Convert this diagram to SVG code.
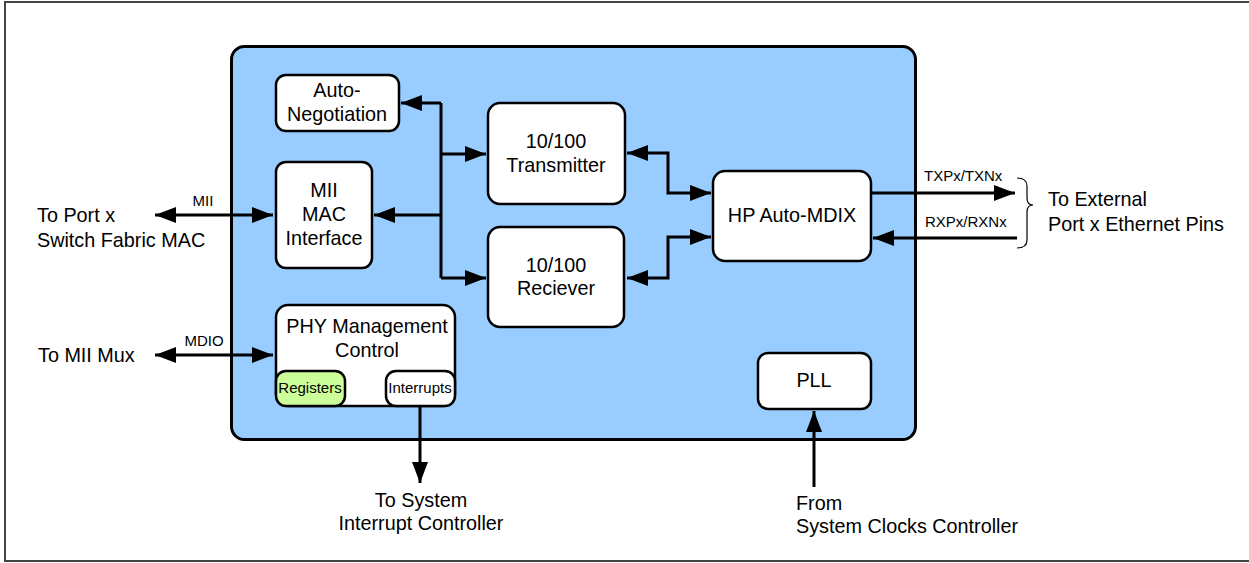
<svg xmlns="http://www.w3.org/2000/svg" width="1249" height="563" viewBox="0 0 1249 563">
<style>
text{font-family:"Liberation Sans",Arial,sans-serif;fill:#000}
.t{font-size:19.8px}
.s{font-size:15px}
.c{text-anchor:middle}
.box{fill:#fff;stroke:#000;stroke-width:2.5}
.ln{fill:none;stroke:#000;stroke-width:3}
</style>
<defs>
<marker id="ah" markerUnits="userSpaceOnUse" markerWidth="22" markerHeight="16" refX="21" refY="8" orient="auto-start-reverse">
<path d="M0,0 L21,8 L0,16 z" fill="#000"/>
</marker>
</defs>
<rect x="5" y="2" width="1250" height="559" fill="#fff" stroke="#444" stroke-width="2"/>
<g id="container">
<rect x="231.5" y="46.5" width="684" height="393" rx="13" fill="#99ccff" stroke="#000" stroke-width="3"/>
</g>
<g id="connectors">
<path class="ln" d="M155,215 L273,215" marker-start="url(#ah)" marker-end="url(#ah)"/>
<path class="ln" d="M155,355 L273,355" marker-start="url(#ah)" marker-end="url(#ah)"/>
<path class="ln" d="M441,103 L441,278"/>
<path class="ln" d="M441,103 L401,103" marker-end="url(#ah)"/>
<path class="ln" d="M441,154 L486,154" marker-end="url(#ah)"/>
<path class="ln" d="M441,215 L374,215" marker-end="url(#ah)"/>
<path class="ln" d="M441,278 L486,278" marker-end="url(#ah)"/>
<path class="ln" d="M627,153 L668,153 L668,193 L711,193" marker-start="url(#ah)" marker-end="url(#ah)"/>
<path class="ln" d="M627,278 L668,278 L668,237 L711,237" marker-start="url(#ah)" marker-end="url(#ah)"/>
<path class="ln" d="M871,193 L1015,193" marker-end="url(#ah)"/>
<path class="ln" d="M1017,238 L873,238" marker-end="url(#ah)"/>
<path class="ln" d="M420,406 L420,483" marker-end="url(#ah)"/>
<path class="ln" d="M814,487 L814,411" marker-end="url(#ah)"/>
<path d="M1017,178 Q1027,178 1027,186 L1027,198 Q1027,205 1033,205 Q1027,205 1027,212 L1027,240 Q1027,248 1017,248" fill="none" stroke="#000" stroke-width="1.2"/>
<text class="s" x="203" y="206" text-anchor="middle">MII</text>
<text class="s" x="204" y="346" text-anchor="middle">MDIO</text>
<text class="s" x="924" y="181">TXPx/TXNx</text>
<text class="s" x="925" y="227">RXPx/RXNx</text>
</g>
<g id="auto-negotiation">
<rect class="box" x="276" y="75" width="123" height="56" rx="10"/>
<text class="t c" x="337" y="97">Auto-</text>
<text class="t c" x="337" y="121">Negotiation</text>
</g>
<g id="mii-mac">
<rect class="box" x="276" y="162" width="96" height="106" rx="10"/>
<text class="t c" x="324" y="197">MII</text>
<text class="t c" x="324" y="221">MAC</text>
<text class="t c" x="324" y="245">Interface</text>
</g>
<g id="transmitter">
<rect class="box" x="488" y="103" width="137" height="101" rx="12"/>
<text class="t c" x="556" y="148">10/100</text>
<text class="t c" x="556" y="172">Transmitter</text>
</g>
<g id="receiver">
<rect class="box" x="488" y="227" width="136" height="100" rx="12"/>
<text class="t c" x="556" y="272">10/100</text>
<text class="t c" x="556" y="295">Reciever</text>
</g>
<g id="hp-auto-mdix">
<rect class="box" x="713" y="171" width="158" height="90" rx="12"/>
<text class="t c" x="792" y="222">HP Auto-MDIX</text>
</g>
<g id="phy-management">
<rect class="box" x="276" y="305" width="179" height="101" rx="12"/>
<text class="t c" x="367" y="333">PHY Management</text>
<text class="t c" x="367" y="357">Control</text>
<rect x="276" y="371" width="69" height="35" rx="10" fill="#ccff99" stroke="#000" stroke-width="2.5"/>
<text class="s c" x="310" y="393">Registers</text>
<rect class="box" x="386" y="371" width="69" height="35" rx="10"/>
<text class="s c" x="420" y="393">Interrupts</text>
</g>
<g id="pll">
<rect class="box" x="758" y="353" width="113" height="56" rx="10"/>
<text class="t c" x="814" y="387">PLL</text>
</g>
<g id="labels">
<text class="t" x="37" y="222">To Port x</text>
<text class="t" x="37" y="247">Switch Fabric MAC</text>
<text class="t" x="38" y="362">To MII Mux</text>
<text class="t" x="1048" y="206">To External</text>
<text class="t" x="1048" y="231">Port x Ethernet Pins</text>
<text class="t c" x="421" y="507">To System</text>
<text class="t c" x="421" y="530">Interrupt Controller</text>
<text class="t" x="796" y="510">From</text>
<text class="t" x="796" y="533">System Clocks Controller</text>
</g>
</svg>
